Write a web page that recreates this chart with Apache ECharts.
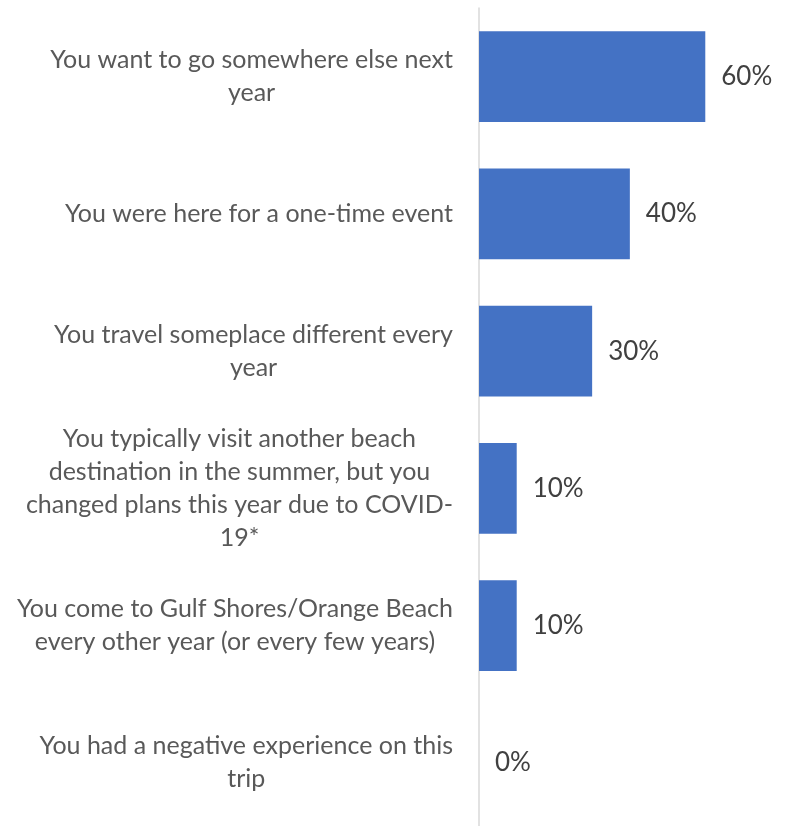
<!DOCTYPE html>
<html>
<head>
<meta charset="utf-8">
<style>
  html, body { margin: 0; padding: 0; background: #ffffff; overflow: hidden; }
  #chart { width: 792px; height: 826px; }
</style>
<script src="https://cdn.jsdelivr.net/npm/echarts@6/dist/echarts.min.js"></script>
</head>
<body>
<div id="chart"></div>
<script>
// Reasons for not returning, with explicit line breaks for the axis labels
const categories = [
  'You want to go somewhere else next\nyear',
  'You were here for a one-time event',
  'You travel someplace different every\nyear',
  'You typically visit another beach\ndestination in the summer, but you\nchanged plans this year due to COVID-\n19*',
  'You come to Gulf Shores/Orange Beach\nevery other year (or every few years)',
  'You had a negative experience on this\ntrip'
];
// Share of respondents, in percent
const shares = [60, 40, 30, 10, 10, 0];

const FONT = 'Lato';
const chart = echarts.init(document.getElementById('chart'), null, { renderer: 'canvas' });

chart.setOption({
  animation: false,
  backgroundColor: '#ffffff',
  grid: {
    left: 479,
    right: 49,
    top: 8,
    height: 823.5,
    outerBoundsMode: 'none'
  },
  xAxis: {
    type: 'value',
    min: 0,
    max: 70,
    show: false
  },
  yAxis: {
    type: 'category',
    data: categories,
    inverse: true,
    axisTick: { show: false },
    axisLine: { show: true, lineStyle: { color: '#d9d9d9', width: 1.5 } },
    splitLine: { show: false },
    axisLabel: {
      margin: 26,
      align: 'right',
      formatter: function (v) {
        // each line centered inside the right-aligned block
        return v.split('\n').map(function (s) { return '{c|' + s + '}'; }).join('\n');
      },
      rich: {
        c: {
          align: 'center',
          fontFamily: FONT,
          fontSize: 25,
          lineHeight: 33,
          color: '#595959'
        }
      }
    }
  },
  series: [{
    type: 'bar',
    data: shares,
    barCategoryGap: '34%',
    itemStyle: { color: '#4472c4' },
    label: {
      show: true,
      position: 'right',
      distance: 16,
      formatter: '{c}%',
      fontFamily: FONT,
      fontSize: 26,
      color: '#404040'
    }
  }]
});
</script>
</body>
</html>
